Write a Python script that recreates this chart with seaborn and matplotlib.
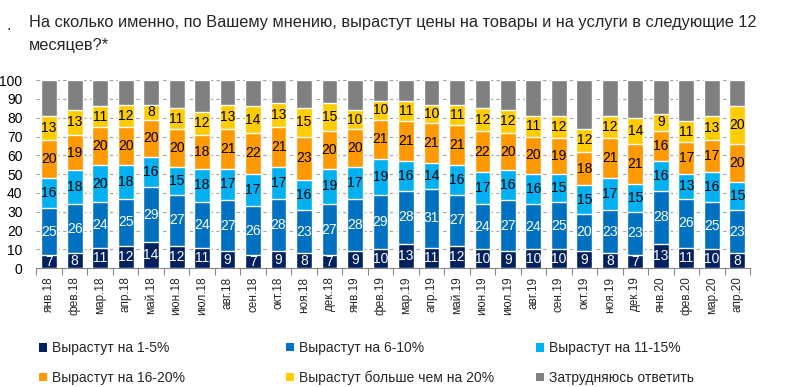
import matplotlib
matplotlib.use("Agg")
import numpy as np
import matplotlib.pyplot as plt
import seaborn as sns
from matplotlib.patches import Patch

months = ["янв.18", "фев.18", "мар.18", "апр.18", "май.18", "июн.18", "июл.18",
          "авг.18", "сен.18", "окт.18", "ноя.18", "дек.18", "янв.19", "фев.19",
          "мар.19", "апр.19", "май.19", "июн.19", "июл.19", "авг.19", "сен.19",
          "окт.19", "ноя.19", "дек.19", "янв.20", "фев.20", "мар.20", "апр.20"]

grow_1_5 = [7, 8, 11, 12, 14, 12, 11, 9, 7, 9, 8, 7, 9, 10, 13, 11, 12, 10, 9, 10, 10, 9, 8, 7, 13, 11, 10, 8]
grow_6_10 = [25, 26, 24, 25, 29, 27, 24, 27, 26, 28, 23, 27, 28, 29, 28, 31, 27, 24, 27, 24, 25, 20, 23, 23, 28, 26, 25, 23]
grow_11_15 = [16, 18, 20, 18, 16, 15, 18, 17, 17, 17, 16, 19, 17, 19, 16, 14, 16, 17, 16, 16, 15, 15, 17, 15, 16, 13, 16, 15]
grow_16_20 = [20, 19, 20, 20, 20, 20, 18, 21, 22, 21, 23, 20, 20, 21, 21, 21, 21, 22, 20, 20, 19, 18, 21, 21, 16, 17, 17, 20]
grow_20_plus = [13, 13, 11, 12, 8, 11, 12, 13, 14, 13, 15, 15, 10, 10, 11, 10, 11, 12, 12, 11, 12, 12, 12, 14, 9, 11, 13, 20]
hard_to_say = [19, 16, 14, 13, 13, 15, 17, 13, 14, 12, 15, 12, 16, 11, 11, 13, 13, 15, 16, 19, 19, 26, 19, 20, 18, 22, 19, 14]

series = [
    ("Вырастут на 1-5%", grow_1_5, "#002060", "white"),
    ("Вырастут на 6-10%", grow_6_10, "#0070C0", "white"),
    ("Вырастут на 11-15%", grow_11_15, "#00B0F0", "black"),
    ("Вырастут на 16-20%", grow_16_20, "#FF9900", "black"),
    ("Вырастут больше чем на 20%", grow_20_plus, "#FFCC00", "black"),
    ("Затрудняюсь ответить", hard_to_say, "#808080", None),
]

sns.set_theme(style="white")
plt.rcParams["font.family"] = ["Liberation Sans", "DejaVu Sans"]

fig = plt.figure(figsize=(7.92, 3.87), dpi=100)
ax = fig.add_axes([0.046, 0.307, 0.901, 0.486])

vals = np.array([s[1] for s in series], dtype=float)
cum = np.cumsum(vals, axis=0)
bottoms = cum - vals

# draw cumulative totals from the top down so each layer covers the one above's base
for i in range(len(series) - 1, -1, -1):
    sns.barplot(x=months, y=cum[i], color=series[i][2], saturation=1,
                width=0.62, ax=ax, zorder=3)

for i, (name, v, c, tc) in enumerate(series):
    if tc is None:
        continue
    for j in range(len(months)):
        ax.text(j, bottoms[i, j] + vals[i, j] / 2, str(v[j]), ha="center",
                va="center", color=tc, fontsize=10, zorder=5)

ax.set_ylim(0, 100)
ax.set_xlim(-0.5, len(months) - 0.5)
ax.set_yticks(range(0, 101, 10))
ax.yaxis.grid(True, color="#A0A0A0", linestyle=(0, (3, 3)), linewidth=0.8, zorder=0)
ax.set_axisbelow(True)
ax.set_xlabel("")
ax.set_ylabel("")
for s in ["top", "right", "left"]:
    ax.spines[s].set_visible(False)
ax.spines["bottom"].set_color("#868686")
ax.spines["bottom"].set_linewidth(0.8)
ax.tick_params(axis="y", labelsize=10, length=0, pad=10, colors="#000000")
ax.tick_params(axis="x", labelsize=8.5, length=0, pad=6, labelrotation=90)
ax.set_xticks(np.arange(-0.5, len(months), 1), minor=True)
ax.tick_params(axis="x", which="minor", length=5, color="#868686", width=0.8, bottom=True)

fig.text(0.036, 0.943, "На сколько именно, по Вашему мнению, вырастут цены на товары и на услуги в следующие 12",
         fontsize=11.8, va="center", ha="left")
fig.text(0.036, 0.883, "месяцев?*", fontsize=11.8, va="center", ha="left")
fig.text(0.008, 0.935, ".", fontsize=11.8, va="center", ha="left")

# legend: three columns of two entries, each placed where the reference has it
handles = [Patch(facecolor=c, edgecolor="none", label=n) for n, _, c, _ in series]
col_x = [0.037, 0.349, 0.665]
for k, x0 in enumerate(col_x):
    pair = [k, k + 3]
    fig.legend([handles[p] for p in pair], [series[p][0] for p in pair], ncol=1,
               loc="center left", bbox_to_anchor=(x0, 0.062), frameon=False,
               fontsize=10, handlelength=0.55, handleheight=0.55, handletextpad=0.35,
               labelspacing=1.1, borderpad=0.2)

fig.savefig("out.png", dpi=100)
